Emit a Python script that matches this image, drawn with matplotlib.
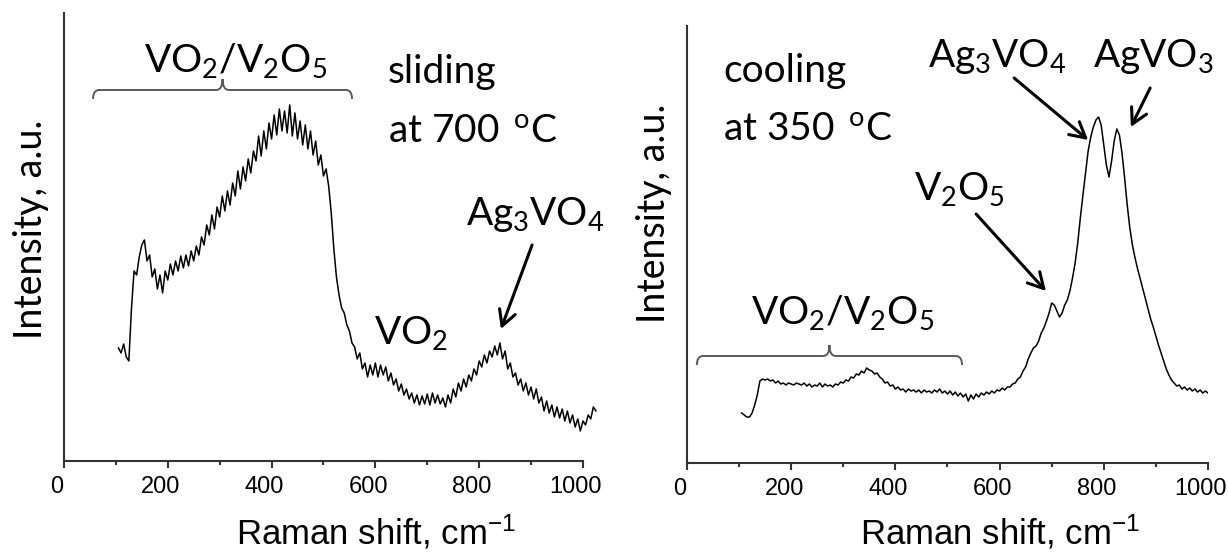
import numpy as np
import matplotlib
matplotlib.use("Agg")
import matplotlib.pyplot as plt
import matplotlib.transforms as mtransforms
from matplotlib.path import Path
from matplotlib.patches import PathPatch
from matplotlib.ticker import MultipleLocator

plt.rcParams['mathtext.default'] = 'regular'

# Raman spectra, intensity in arbitrary units
shift_slide = np.arange(105, 1030, 5)
intensity_slide = [
    113, 108, 117, 104, 100, 152, 190, 186, 204, 216,
    221, 200, 206, 184, 192, 172, 186, 168, 190, 181,
    197, 186, 200, 190, 205, 193, 206, 195, 210, 200,
    215, 206, 224, 216, 236, 226, 246, 232, 254, 244,
    265, 250, 270, 256, 278, 265, 290, 272, 294, 280,
    302, 288, 310, 300, 325, 305, 330, 312, 338, 322,
    346, 326, 352, 330, 350, 328, 356, 325, 348, 322,
    340, 316, 336, 312, 330, 306, 320, 296, 306, 285,
    292, 275, 248, 212, 184, 166, 153, 148, 136, 130,
    118, 114, 102, 108, 92, 98, 84, 96, 86, 98,
    84, 96, 86, 94, 80, 88, 76, 82, 70, 77,
    66, 72, 62, 68, 58, 66, 56, 65, 57, 67,
    56, 68, 58, 66, 57, 63, 54, 66, 58, 72,
    64, 78, 70, 82, 74, 86, 80, 92, 86, 100,
    94, 106, 98, 110, 104, 115, 106, 118, 102, 110,
    92, 98, 84, 88, 76, 82, 70, 78, 66, 74,
    62, 72, 58, 64, 50, 60, 48, 56, 44, 54,
    43, 52, 40, 50, 38, 46, 34, 42, 30, 40,
    36, 46, 42, 54, 50,
]

shift_cool = np.arange(105, 1005, 5)
intensity_cool = [
    50, 48, 46, 46, 50, 58, 68, 82, 84, 83,
    84, 82, 83, 80, 82, 79, 80, 78, 80, 79,
    78, 80, 79, 78, 80, 77, 79, 76, 78, 77,
    80, 76, 79, 77, 78, 76, 79, 78, 81, 80,
    83, 82, 86, 85, 89, 88, 92, 90, 95, 93,
    92, 89, 90, 86, 84, 80, 81, 77, 78, 74,
    76, 73, 74, 71, 74, 72, 73, 71, 73, 70,
    73, 71, 72, 70, 73, 71, 74, 70, 72, 69,
    72, 68, 71, 67, 70, 66, 69, 62, 68, 64,
    69, 66, 70, 68, 71, 69, 72, 70, 73, 72,
    75, 73, 76, 76, 79, 80, 84, 86, 92, 96,
    104, 110, 115, 117, 122, 130, 135, 142, 150, 160,
    158, 152, 146, 150, 158, 163, 172, 185, 200, 220,
    245, 268, 290, 312, 326, 336, 343, 346, 338, 318,
    298, 286, 302, 322, 334, 328, 310, 285, 258, 235,
    218, 205, 194, 184, 174, 164, 154, 144, 136, 127,
    118, 110, 102, 94, 88, 83, 80, 77, 78, 74,
    76, 73, 75, 72, 74, 71, 73, 70, 72, 70,
]

# labels: (text, x, y)
labels_slide = [
    ('sliding', 624, 378),
    ('at 700 $^{\\,o}$C', 624, 319),
    ('Ag$_3$VO$_4$', 774, 236),
    ('VO$_2$', 597, 117),
]
labels_cool = [
    ('cooling', 69, 381),
    ('at 350 $^{\\,o}$C', 69, 323),
    ('Ag$_3$VO$_4$', 462, 396),
    ('AgVO$_3$', 780, 396),
    ('V$_2$O$_5$', 436, 263),
]
# arrows: (tail, head)
arrows_slide = [((902, 216), (842, 132))]
arrows_cool = [((628, 385), (770, 323)),
               ((889, 375), (852, 336)),
               ((555, 249), (689, 172))]
# brace: x from, x to, y line, label y
brace_slide = (56, 555, 371, 389)
brace_cool = (19, 528, 107, 139)

ANNOT_FONT = 'Lato'
TICK_FONT = 'Liberation Sans'
ANNOT_SIZE = 28


def draw_brace(ax, x0: float, x1: float, y: float, label_y: float) -> None:
    xc = (x0 + x1) / 2
    r = 12
    drop = 9
    tip = 11
    verts = [(x0, y - drop), (x0, y), (x0 + r, y),
             (xc - r, y), (xc, y), (xc, y + tip),
             (xc, y), (xc + r, y),
             (x1 - r, y), (x1, y), (x1, y - drop)]
    codes = [Path.MOVETO, Path.CURVE3, Path.CURVE3,
             Path.LINETO, Path.CURVE3, Path.CURVE3,
             Path.CURVE3, Path.CURVE3,
             Path.LINETO, Path.CURVE3, Path.CURVE3]
    ax.add_patch(PathPatch(Path(verts, codes), fill=False,
                           edgecolor='#5a5a5a', lw=1.4, clip_on=False))
    ax.text(xc + 25, label_y, 'VO$_2$/V$_2$O$_5$', ha='center', va='baseline',
            family=ANNOT_FONT, fontsize=ANNOT_SIZE)


def style_axis(ax, xmax: float, ymax: float) -> None:
    ax.set_xlim(0, xmax)
    ax.set_ylim(0, ymax)
    for side in ['top', 'right']:
        ax.spines[side].set_visible(False)
    for side in ['left', 'bottom']:
        ax.spines[side].set_linewidth(1.5)
        ax.spines[side].set_color('#333333')
    ax.spines['bottom'].set_bounds(0, 1000)
    ax.set_xticks(np.arange(0, 1001, 200))
    ax.xaxis.set_minor_locator(MultipleLocator(100))
    ax.tick_params(axis='x', which='major', length=5, width=1.5, color='#333333',
                   labelsize=17, pad=6)
    ax.tick_params(axis='x', which='minor', length=3, width=1.5, color='#333333')
    ax.set_yticks([])
    # labels sit a little left of their ticks in the original
    shift = mtransforms.ScaledTranslation(-0.07, 0, ax.figure.dpi_scale_trans)
    for lab in ax.get_xticklabels():
        lab.set_family(TICK_FONT)
        lab.set_transform(lab.get_transform() + shift)
    ax.set_xlabel('Raman shift, cm$^{-1}$', family=TICK_FONT, fontsize=25)
    ax.set_ylabel('Intensity, a.u.', family=ANNOT_FONT, fontsize=27)


def annotate_panel(ax, labels, arrows) -> None:
    for text, x, y in labels:
        ax.text(x, y, text, family=ANNOT_FONT, fontsize=ANNOT_SIZE, va='baseline')
    for tail, head in arrows:
        ax.annotate('', xy=head, xytext=tail,
                    arrowprops=dict(arrowstyle='->, head_length=0.55, head_width=0.3',
                                    lw=2.2, color='black', mutation_scale=20,
                                    shrinkA=0, shrinkB=0))


fig = plt.figure(figsize=(12.28, 5.52), dpi=100)
ax1 = fig.add_axes([0.0521, 0.1649, 0.4353, 0.8116])
ax2 = fig.add_axes([0.5594, 0.1612, 0.4243, 0.7917])

ax1.plot(shift_slide, intensity_slide, color='black', lw=1.1)
style_axis(ax1, 1030, 448)
ax1.yaxis.set_label_coords(-0.028, 0.516)
ax1.xaxis.set_label_coords(0.584, -0.115)
annotate_panel(ax1, labels_slide, arrows_slide)
draw_brace(ax1, *brace_slide)

ax2.plot(shift_cool, intensity_cool, color='black', lw=1.1)
style_axis(ax2, 1000, 437)
ax2.yaxis.set_label_coords(-0.029, 0.572)
ax2.xaxis.set_label_coords(0.60, -0.113)
annotate_panel(ax2, labels_cool, arrows_cool)
draw_brace(ax2, *brace_cool)

fig.savefig('out.png', dpi=100)
